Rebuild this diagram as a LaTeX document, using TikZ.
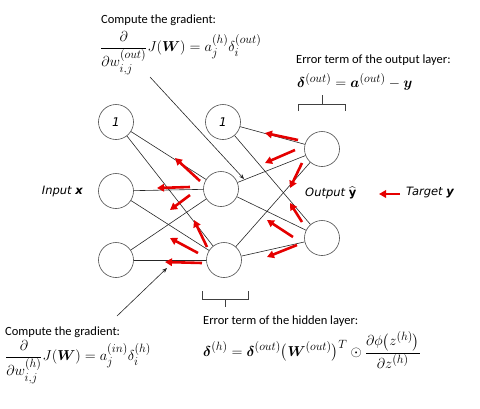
\documentclass[tikz,border=0pt]{standalone}
\usepackage{amsmath,bm}
\usepackage{fontspec}
\setmainfont{Carlito}
\newfontfamily\lblfont{DejaVu Sans}
\DeclareMathSizes{15.5}{15.5}{12}{9.5}
\usetikzlibrary{arrows.meta}
\begin{document}
\begin{tikzpicture}[x=1pt,y=-1pt,
  neuron/.style={circle,draw=black!70,line width=0.6pt,minimum size=35pt,inner sep=0pt,font=\lblfont\fontsize{12}{14}\selectfont\itshape},
  edge/.style={draw=black!85,line width=0.6pt},
  bp/.style={draw=red!90!black,line width=2.6pt,-{Triangle[length=7pt,width=7.5pt]}},
  ann/.style={draw=black!85,line width=0.6pt,-{Stealth[length=5pt,width=4pt]}},
  lbl/.style={font=\fontsize{12.5}{14}\selectfont,inner sep=0pt,anchor=west},
  io/.style={font=\lblfont\fontsize{11.5}{14}\selectfont\itshape,inner sep=0pt},
  mth/.style={font=\fontsize{15.5}{17}\selectfont,inner sep=0pt,anchor=west},
  brk/.style={draw=black!75,line width=0.6pt}]
\useasboundingbox (0,0) rectangle (480,408);
% neurons
\node[neuron] (b0) at (116,122) {1};
\node[neuron] (x1) at (116,191) {};
\node[neuron] (x2) at (116,260) {};
\node[neuron] (b1) at (223,122) {1};
\node[neuron] (h1) at (221,189) {};
\node[neuron] (h2) at (224,260) {};
\node[neuron] (o1) at (322,149) {};
\node[neuron] (o2) at (322,238) {};
% edges
\foreach \a in {b0,x1,x2}{\foreach \b in {h1,h2}{\draw[edge] (\a) -- (\b);}}
\foreach \a in {b1,h1,h2}{\foreach \b in {o1,o2}{\draw[edge] (\a) -- (\b);}}
% backprop arrows
\draw[bp] (200,181) -- (175,158);
\draw[bp] (190,187) -- (157,188);
\draw[bp] (190,195) -- (170,210);
\draw[bp] (207,247) -- (194,220);
\draw[bp] (198,253) -- (170,238);
\draw[bp] (202,263) -- (165,262);
\draw[bp] (298,140) -- (265,133);
\draw[bp] (295,150) -- (265,163);
\draw[bp] (302,163) -- (290,188);
\draw[bp] (302,222) -- (290,203);
\draw[bp] (293,237) -- (267,220);
\draw[bp] (297,245) -- (267,257);
% labels
\node[io,anchor=east] (inp) at (83,191) {Input \textbf{x}};
\node[io,anchor=west] (outp) at (305,193) {Output $\widehat{\text{\upshape\bfseries y}}$};
\node[io,anchor=west] (tgt) at (406,193) {Target \textbf{y}};
\coordinate (tg) at (400,194);
\coordinate (og) at (379,194);
\draw[bp] (tg) -- (og);
% top gradient
\node[lbl] (cg1) at (101,20) {Compute the gradient:};
\node[mth] (f1) at (100,53) {$\displaystyle\frac{\partial}{\partial w^{(out)}_{i,j}}J(\bm{W})=a^{(h)}_j\delta^{(out)}_i$};
\coordinate (a1s) at (150,77);
\coordinate (a1e) at (244,179);
\draw[ann] (a1s) -- (a1e);
% output error
\node[lbl] (eo) at (296,60) {Error term of the output layer:};
\node[mth] (fo) at (297,82) {$\bm{\delta}^{(out)}=\bm{a}^{(out)}-\bm{y}$};
\draw[brk] (298,111) -- (298,104) -- (345,104) -- (345,111);
\draw[brk] (322,104) -- (322,95);
% hidden error
\draw[brk] (202,291) -- (202,299) -- (248,299) -- (248,291);
\draw[brk] (225,299) -- (225,307);
\node[lbl] (eh) at (203,321) {Error term of the hidden layer:};
\node[mth] (fh) at (203,350) {$\displaystyle\bm{\delta}^{(h)}=\bm{\delta}^{(out)}\big(\bm{W}^{(out)}\big)^{T}\odot\frac{\partial\phi\big(z^{(h)}\big)}{\partial z^{(h)}}$};
% bottom gradient
\node[lbl] (cg2) at (5,332) {Compute the gradient:};
\node[mth] (f2) at (5,362) {$\displaystyle\frac{\partial}{\partial w^{(h)}_{i,j}}J(\bm{W})=a^{(in)}_j\delta^{(h)}_i$};
\coordinate (a2s) at (117,316);
\coordinate (a2e) at (167,268);
\draw[ann] (a2s) -- (a2e);
\end{tikzpicture}
\end{document}
